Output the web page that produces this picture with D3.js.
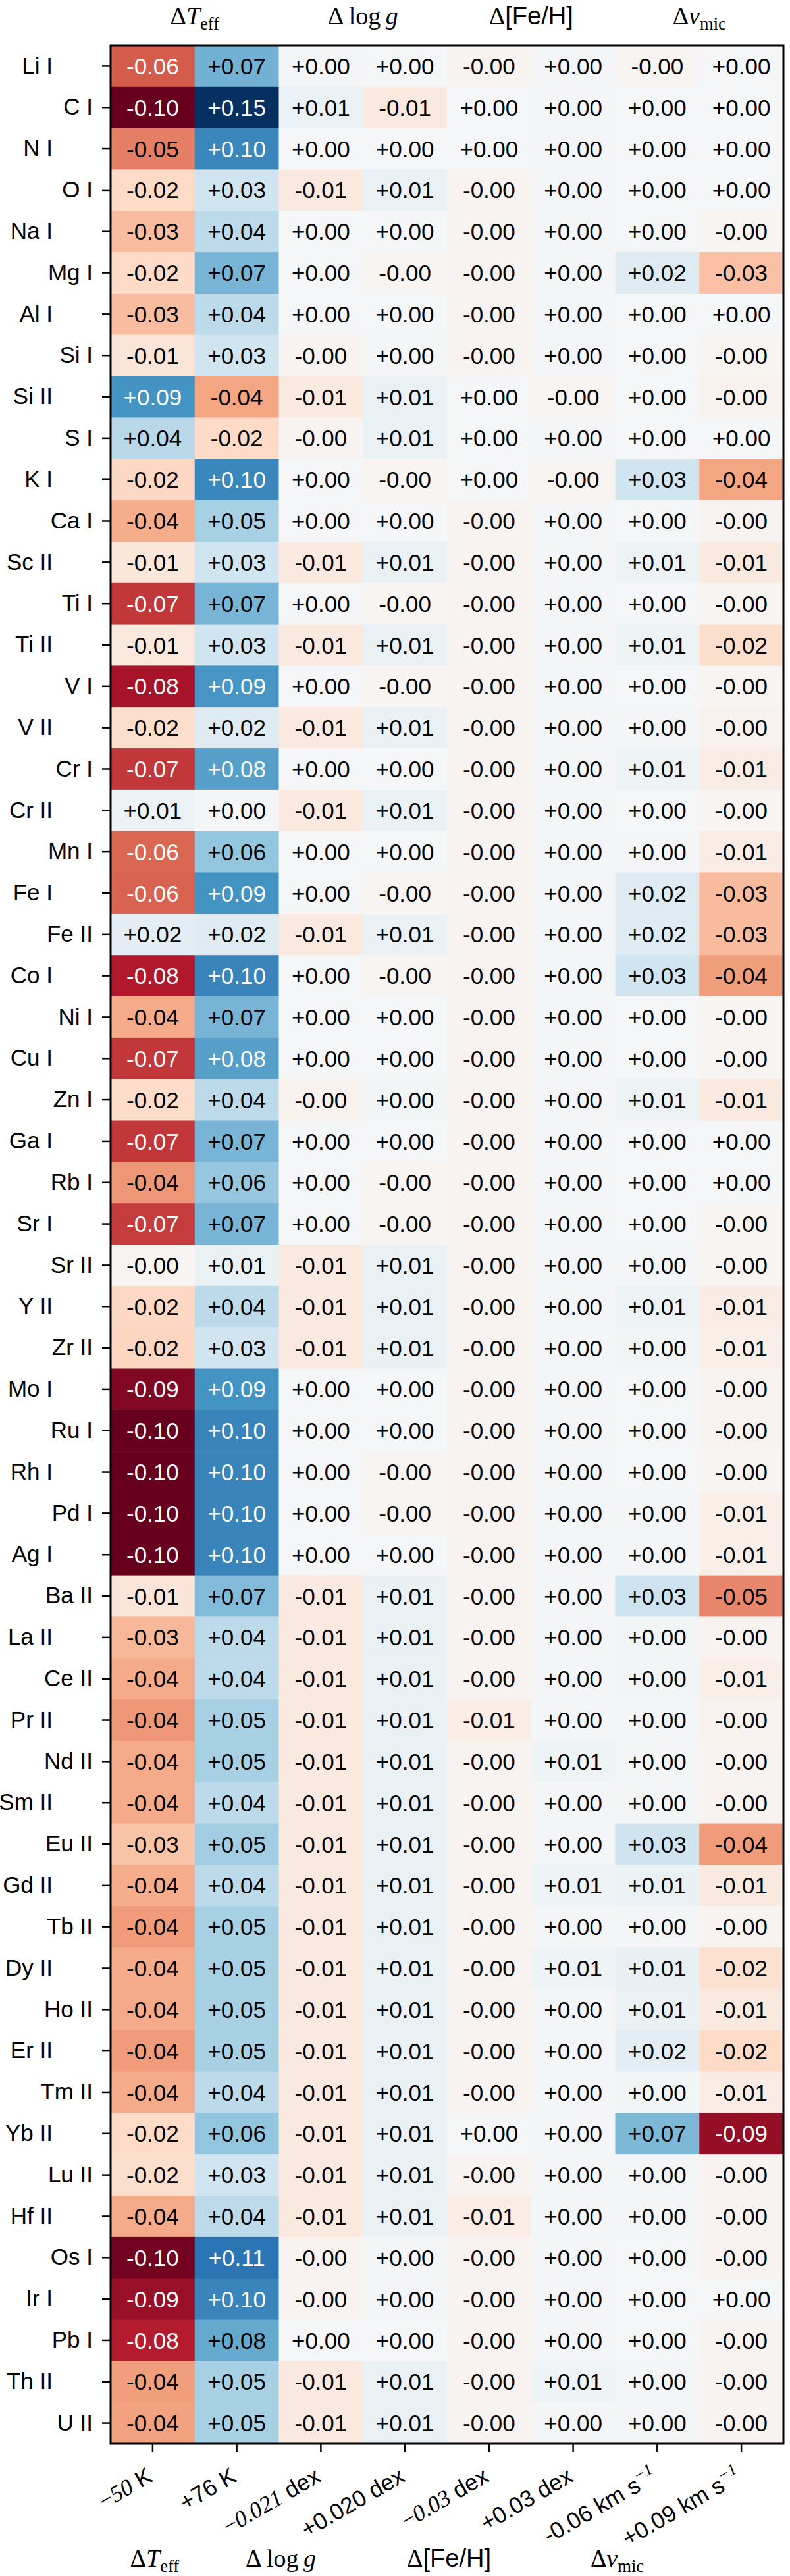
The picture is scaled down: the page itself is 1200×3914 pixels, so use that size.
<!DOCTYPE html>
<html>
<head>
<meta charset="utf-8">
<script src="https://cdn.jsdelivr.net/npm/d3@7"></script>
<style>
  body { margin: 0; background: #fff; }
  svg { display: block; }
</style>
</head>
<body>
<svg id="chart"></svg>
<script>
// ---------------- DATA ----------------
const species = ["Li I","C I","N I","O I","Na I","Mg I","Al I","Si I","Si II","S I","K I","Ca I","Sc II","Ti I","Ti II","V I","V II","Cr I","Cr II","Mn I","Fe I","Fe II","Co I","Ni I","Cu I","Zn I","Ga I","Rb I","Sr I","Sr II","Y II","Zr II","Mo I","Ru I","Rh I","Pd I","Ag I","Ba II","La II","Ce II","Pr II","Nd II","Sm II","Eu II","Gd II","Tb II","Dy II","Ho II","Er II","Tm II","Yb II","Lu II","Hf II","Os I","Ir I","Pb I","Th II","U II"];

const tMinus = [-0.061,-0.102,-0.051,-0.020,-0.031,-0.020,-0.031,-0.013,0.090,0.042,-0.021,-0.037,-0.012,-0.071,-0.011,-0.083,-0.018,-0.071,0.009,-0.058,-0.059,0.016,-0.080,-0.038,-0.071,-0.019,-0.071,-0.044,-0.070,-0.002,-0.021,-0.022,-0.093,-0.101,-0.100,-0.101,-0.100,-0.013,-0.033,-0.038,-0.044,-0.038,-0.038,-0.029,-0.037,-0.043,-0.038,-0.038,-0.043,-0.038,-0.020,-0.018,-0.038,-0.097,-0.087,-0.079,-0.042,-0.041];
const tPlus = [0.072,0.150,0.098,0.030,0.040,0.070,0.040,0.030,-0.040,-0.020,0.098,0.050,0.030,0.070,0.030,0.089,0.020,0.083,0.003,0.060,0.090,0.020,0.100,0.070,0.083,0.040,0.070,0.058,0.070,0.010,0.040,0.030,0.090,0.100,0.100,0.100,0.100,0.066,0.040,0.040,0.050,0.050,0.040,0.053,0.040,0.050,0.050,0.050,0.050,0.040,0.060,0.030,0.040,0.110,0.100,0.077,0.050,0.050];
const loggMinus = [0.003,0.010,0.002,-0.010,0.002,0.002,0.002,-0.003,-0.010,-0.003,0.002,0.002,-0.010,0.002,-0.010,0.002,-0.010,0.002,-0.010,0.002,0.002,-0.010,0.002,0.002,0.002,-0.004,0.002,0.002,0.002,-0.010,-0.010,-0.010,0.002,0.002,0.002,0.002,0.002,-0.010,-0.010,-0.010,-0.010,-0.010,-0.010,-0.010,-0.010,-0.010,-0.010,-0.010,-0.010,-0.010,-0.010,-0.010,-0.010,-0.003,-0.003,0.002,-0.010,-0.010];
const loggPlus = [0.002,-0.010,0.002,0.010,0.002,-0.002,0.002,0.003,0.010,0.010,-0.002,0.002,0.010,-0.002,0.010,-0.002,0.010,0.002,0.010,0.002,-0.002,0.010,-0.002,0.002,0.002,0.004,0.002,-0.002,-0.002,0.010,0.010,0.010,0.002,0.002,-0.002,-0.002,0.002,0.010,0.010,0.010,0.010,0.010,0.010,0.010,0.010,0.010,0.010,0.010,0.010,0.010,0.010,0.010,0.010,0.003,0.003,0.002,0.010,0.010];
const fehMinus = [-0.003,0.002,0.002,-0.003,-0.003,-0.003,-0.003,-0.003,0.002,0.002,0.002,-0.003,-0.003,-0.003,-0.003,-0.003,-0.003,-0.003,-0.003,-0.003,-0.003,-0.003,-0.003,-0.003,-0.003,-0.003,-0.003,-0.003,-0.003,-0.003,-0.003,-0.003,-0.003,-0.003,-0.003,-0.003,-0.003,-0.003,-0.003,-0.003,-0.007,-0.003,-0.003,-0.003,-0.003,-0.003,-0.003,-0.003,-0.003,-0.003,0.002,-0.003,-0.007,-0.003,-0.003,-0.003,-0.003,-0.003];
const fehPlus = [0.003,0.003,0.003,0.003,0.003,0.003,0.003,0.003,-0.002,0.003,-0.002,0.003,0.003,0.003,0.003,0.003,0.003,0.003,0.003,0.003,0.003,0.003,0.003,0.003,0.003,0.003,0.003,0.003,0.003,0.003,0.003,0.003,0.003,0.003,0.003,0.003,0.003,0.003,0.003,0.003,0.003,0.007,0.003,0.003,0.007,0.003,0.007,0.003,0.003,0.003,0.003,0.003,0.003,0.003,0.003,0.003,0.007,0.003];
const vmicMinus = [-0.002,0.002,0.002,0.002,0.002,0.020,0.002,0.002,0.002,0.002,0.030,0.002,0.008,0.002,0.008,0.002,0.003,0.008,0.002,0.003,0.020,0.020,0.030,0.002,0.002,0.008,0.002,0.002,0.002,0.003,0.008,0.004,0.002,0.002,0.002,0.003,0.003,0.032,0.004,0.004,0.003,0.003,0.003,0.031,0.010,0.003,0.012,0.010,0.016,0.004,0.068,0.003,0.003,0.002,0.002,0.002,0.003,0.003];
const vmicPlus = [0.002,0.002,0.002,0.002,-0.002,-0.030,0.002,-0.002,-0.004,0.002,-0.040,-0.003,-0.010,-0.002,-0.018,-0.002,-0.004,-0.008,-0.002,-0.008,-0.032,-0.032,-0.042,-0.002,-0.002,-0.010,0.002,0.002,-0.002,-0.002,-0.008,-0.006,-0.003,-0.003,-0.002,-0.006,-0.006,-0.049,-0.003,-0.006,-0.004,-0.003,-0.003,-0.043,-0.010,-0.003,-0.016,-0.010,-0.020,-0.008,-0.088,-0.003,-0.003,-0.003,0.002,-0.003,-0.003,-0.003];

const tickLabels = ["$-50$ K", "+76 K", "$-0.021$ dex", "+0.020 dex", "$-0.03$ dex", "+0.03 dex", "-0.06 km s$^{-1}$", "+0.09 km s$^{-1}$"];
const headerLabels = ["$\\Delta T_{eff}$", "$\\Delta\\log g$", "$\\Delta$[Fe/H]", "$\\Delta v_{mic}$"];

// ---------------- LAYOUT ----------------
const W = 1200, H = 3914;
const plot = { left: 168, right: 1190, top: 69, bottom: 3713 };
const SANS = "'Liberation Sans', Arial, Helvetica, sans-serif";
const SERIF = "'Liberation Serif', 'DejaVu Serif', serif";
const FS = 35;

const svg = d3.select("#chart").attr("width", W).attr("height", H);
svg.append("rect").attr("width", W).attr("height", H).attr("fill", "#fff");

const series = [tMinus, tPlus, loggMinus, loggPlus, fehMinus, fehPlus, vmicMinus, vmicPlus];
const x = d3.scaleBand().domain(d3.range(series.length)).range([plot.left, plot.right]);
const y = d3.scaleBand().domain(species).range([plot.top, plot.bottom]);

const norm = d3.scaleLinear().domain([-0.10, 0, 0.15]).range([0, 0.5, 1]).clamp(true);
const rdbu = ["#67001f","#b2182b","#d6604d","#f4a582","#fddbc7","#f7f7f7","#d1e5f0","#92c5de","#4393c3","#2166ac","#053061"];
const cmap = d3.scaleLinear().domain(d3.range(11).map(i => i / 10)).range(rdbu).interpolate(d3.interpolateRgb);
const fmt = d3.formatLocale({ decimal: ".", thousands: ",", grouping: [3], currency: ["", ""], minus: "-" }).format("+.2f");

const cells = [];
species.forEach((s, i) => series.forEach((arr, j) => cells.push({ s, j, v: arr[i] })));

const gCells = svg.append("g");
gCells.selectAll("rect").data(cells).join("rect")
  .attr("x", d => x(d.j))
  .attr("y", d => y(d.s))
  .attr("width", x.bandwidth() + 0.5)
  .attr("height", y.bandwidth() + 0.5)
  .attr("fill", d => cmap(norm(d.v)));

gCells.selectAll("text").data(cells).join("text")
  .attr("x", d => x(d.j) + x.bandwidth() / 2)
  .attr("y", d => y(d.s) + y.bandwidth() / 2)
  .attr("dy", "0.36em")
  .attr("text-anchor", "middle")
  .attr("font-family", SANS)
  .attr("font-size", FS)
  .attr("fill", d => { const t = norm(d.v); return (t < 0.22 || t > 0.77) ? "#fff" : "#000"; })
  .text(d => fmt(d.v));

// ---------------- AXES ----------------
const gy = svg.append("g").attr("transform", `translate(${plot.left},0)`)
  .call(d3.axisLeft(y).tickSize(13).tickPadding(13));
gy.select(".domain").remove();
gy.selectAll(".tick line").attr("stroke", "#000").attr("stroke-width", 2.5);
gy.selectAll(".tick text")
  .attr("font-family", SANS).attr("font-size", FS).attr("fill", "#000")
  .attr("x", (d, i) => i % 2 === 0 ? -(plot.left - 80) : -(plot.left - 141));

const gx = svg.append("g").attr("transform", `translate(0,${plot.bottom})`)
  .call(d3.axisBottom(x).tickSize(13).tickFormat(() => ""));
gx.select(".domain").remove();
gx.selectAll(".tick line").attr("stroke", "#000").attr("stroke-width", 2.5);

// rich text helper: $...$ math segments, \Delta, \log, _{..}, ^{..}
function richText(sel, str, fs, baseFont) {
  const segs = [];
  const parts = str.split("$");
  parts.forEach((p, k) => {
    if (k % 2 === 0) { if (p) segs.push({ t: p, font: baseFont, style: "normal", shift: 0, size: fs }); return; }
    let i = 0;
    while (i < p.length) {
      if (p.startsWith("\\Delta", i)) { segs.push({ t: "Δ", font: SERIF, style: "normal", shift: 0, size: fs }); i += 6; continue; }
      if (p.startsWith("\\log", i)) { segs.push({ t: "\u2009log\u2009", font: SERIF, style: "normal", shift: 0, size: fs }); i += 4; continue; }
      if (p[i] === "_" || p[i] === "^") {
        const sub = p[i] === "_";
        const end = p.indexOf("}", i);
        const inner = p.slice(i + 2, end);
        segs.push({ t: sub ? inner : inner.replace(/-/g, "−"), font: SERIF, style: sub ? "normal" : "italic", shift: sub ? 0.22 * fs : -0.42 * fs, size: 0.7 * fs });
        i = end + 1; continue;
      }
      const c = p[i];
      if (c === " ") { i++; continue; }
      if (c === "-") { segs.push({ t: "−", font: SERIF, style: "normal", shift: 0, size: fs }); i++; continue; }
      segs.push({ t: c, font: SERIF, style: "italic", shift: 0, size: fs });
      i++;
    }
  });
  let cur = 0;
  segs.forEach(s => {
    sel.append("tspan")
      .attr("font-family", s.font).attr("font-style", s.style).attr("font-size", s.size)
      .attr("dy", s.shift - cur).text(s.t);
    cur = s.shift;
  });
}

// rotated bottom tick labels
tickLabels.forEach((lab, j) => {
  const cx = x(j) + x.bandwidth() / 2;
  const t = svg.append("text")
    .attr("text-anchor", "end")
    .attr("font-family", SANS).attr("font-size", FS).attr("fill", "#000")
    .attr("transform", `translate(${cx + 2},${plot.bottom + 56}) rotate(-30)`);
  richText(t, lab, FS, SANS);
});

// top headers (centred over each pair of columns)
headerLabels.forEach((lab, k) => {
  const cx = x(2 * k) + x.bandwidth();
  const t = svg.append("text").attr("x", cx).attr("y", 37)
    .attr("text-anchor", "middle").attr("font-size", 38).attr("fill", "#000").attr("font-family", SANS);
  richText(t, lab, 38, SANS);
});

// bottom group labels
const bottomPos = [x(0) + x.bandwidth() / 2, x(2), x(4), x(6)];
headerLabels.forEach((lab, k) => {
  const t = svg.append("text").attr("x", bottomPos[k] + 3).attr("y", 3900)
    .attr("text-anchor", "middle").attr("font-size", 38).attr("fill", "#000").attr("font-family", SANS);
  richText(t, lab, 38, SANS);
});

// frame
svg.append("rect")
  .attr("x", plot.left).attr("y", plot.top)
  .attr("width", plot.right - plot.left).attr("height", plot.bottom - plot.top)
  .attr("fill", "none").attr("stroke", "#000").attr("stroke-width", 3);
</script>
</body>
</html>
